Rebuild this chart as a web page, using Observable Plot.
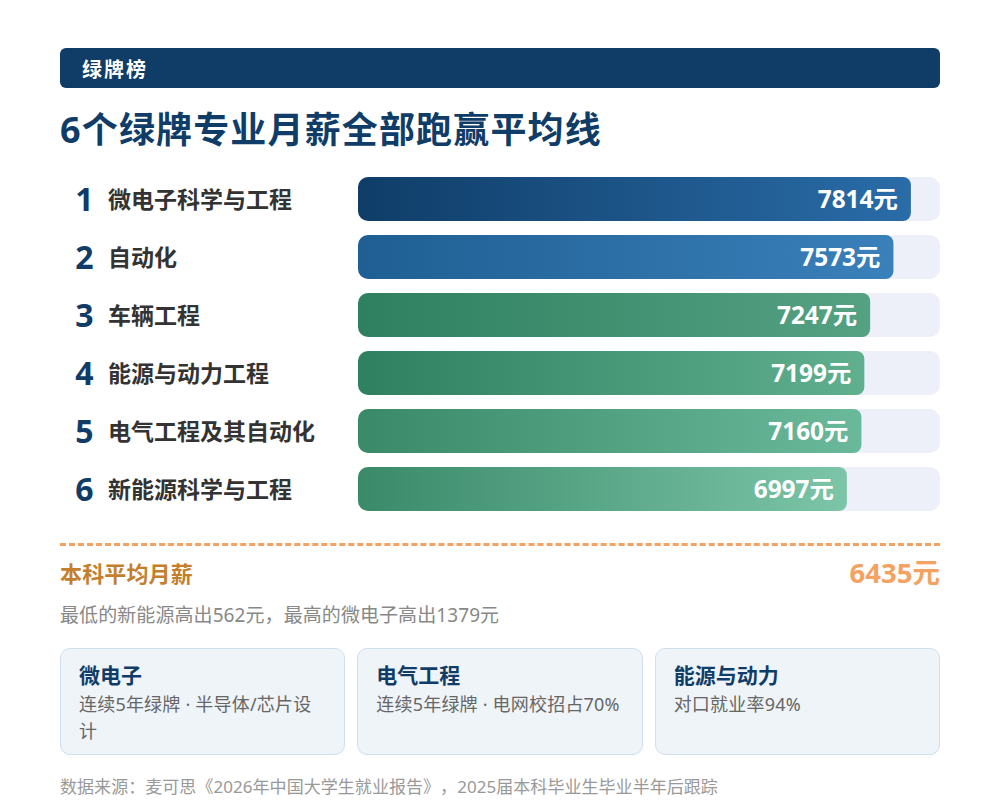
<!DOCTYPE html>
<html lang="zh">
<head>
<meta charset="utf-8">
<script src="https://cdn.jsdelivr.net/npm/d3@7"></script>
<script src="https://cdn.jsdelivr.net/npm/@observablehq/plot@0.6"></script>
<style>
html,body{margin:0;padding:0;background:#fff;}
body{width:1000px;height:802px;position:relative;overflow:hidden;font-family:"Noto Sans","Noto Sans CJK SC",sans-serif;text-spacing-trim:space-all;}
.abs{position:absolute;white-space:nowrap;}
#band{left:60px;top:48px;width:880px;height:40px;background:#0f3d68;border-radius:6px;color:#fff;font-size:20px;font-weight:700;line-height:43px;text-indent:22px;letter-spacing:2px;}
#title{left:60px;top:105px;font-size:36px;font-weight:700;color:#0f3d68;letter-spacing:1.15px;line-height:50px;}
#chart{left:0;top:177px;}
#chart svg{display:block;}
#rule{left:60px;top:543px;width:880px;border-top:3px dashed #f4a261;}
#avgL{left:60px;top:557px;font-size:22px;font-weight:700;color:#c47f2c;line-height:32px;letter-spacing:.15px;}
#avgV{right:60px;top:553px;font-size:27.5px;font-weight:700;color:#f4a261;line-height:40px;}
#note{left:60px;top:601px;font-size:19px;color:#888;line-height:28px;letter-spacing:.08px;}
.card{position:absolute;top:648px;height:105px;width:283.33px;background:#eff4f9;border:1px solid #cfdfee;border-radius:10px;}
.card b{position:absolute;left:18px;top:11px;font-size:21px;line-height:30px;color:#0f3d68;white-space:nowrap;}
.card span{position:absolute;left:18px;right:18px;top:42px;font-size:18px;line-height:26.5px;color:#666;letter-spacing:.2px;}
#src{left:60px;top:773px;font-size:17px;color:#999;line-height:28px;letter-spacing:.05px;}
</style>
</head>
<body>
<div id="band" class="abs"></div>
<div id="title" class="abs"></div>
<div id="chart" class="abs"></div>
<div id="rule" class="abs"></div>
<div id="avgL" class="abs"></div>
<div id="avgV" class="abs"></div>
<div id="note" class="abs"></div>
<div id="cards"></div>
<div id="src" class="abs"></div>
<script>
// ---- data ----
const majors = ["微电子科学与工程","自动化","车辆工程","能源与动力工程","电气工程及其自动化","新能源科学与工程"];
const ranks = [1,2,3,4,5,6];
const salaries = [7814,7573,7247,7199,7160,6997];
// bar length as share of the track, as measured in the reference (not linear in salary)
const barShare = [95,92,88,87,86.5,84];
const gradientFrom = ["#0f3d68","#1f5f93","#2e8060","#2e8060","#3a8a6a","#3a8a6a"];
const gradientTo = ["#2a6ca8","#3a80ba","#55a283","#60b08f","#6ab99a","#7cc5a8"];
const average = 6435;
const cardTitles = ["微电子","电气工程","能源与动力"];
const cardTexts = ["连续5年绿牌 · 半导体/芯片设计","连续5年绿牌 · 电网校招占70%","对口就业率94%"];

const rows = majors.map((name,i)=>({name,rank:ranks[i],salary:salaries[i],share:barShare[i],grad:`url(#bar${i})`}));

document.getElementById("band").textContent = "绿牌榜";
document.getElementById("title").textContent = "6个绿牌专业月薪全部跑赢平均线";
document.getElementById("avgL").textContent = "本科平均月薪";
document.getElementById("avgV").textContent = average + "元";
document.getElementById("note").textContent = `最低的新能源高出${salaries[5]-average}元，最高的微电子高出${salaries[0]-average}元`;
document.getElementById("src").textContent = "数据来源：麦可思《2026年中国大学生就业报告》，2025届本科毕业生毕业半年后跟踪";
const cardLefts = [60,357.33,654.67];
cardTitles.forEach((t,i)=>{
  const c=document.createElement("div");c.className="card";c.style.left=cardLefts[i]+"px";
  const b=document.createElement("b");b.textContent=t;
  const s=document.createElement("span");s.textContent=cardTexts[i];
  c.append(b,s);document.getElementById("cards").append(c);
});

function defs(){
  const d=d3.create("svg:defs");
  majors.forEach((_,i)=>{
    const g=d.append("linearGradient").attr("id",`bar${i}`).attr("x1","0").attr("x2","1").attr("y1","0").attr("y2","0");
    g.append("stop").attr("offset","0").attr("stop-color",gradientFrom[i]);
    g.append("stop").attr("offset","1").attr("stop-color",gradientTo[i]);
  });
  return d.node();
}

const font='"Noto Sans","Noto Sans CJK SC",sans-serif';
const plot = Plot.plot({
  width:1000,height:334,
  marginTop:0,marginBottom:0,marginLeft:0,marginRight:0,
  style:{background:"transparent",fontFamily:font},
  x:{domain:[0,100],range:[358,940],axis:null},
  y:{domain:majors,range:[0,334],paddingInner:14/58,paddingOuter:0,axis:null},
  color:{type:"identity"},
  marks:[
    defs,
    Plot.barX(rows,{x1:0,x2:100,y:"name",fill:"#edf0f8",rx:10}),
    Plot.barX(rows,{x1:0,x2:"share",y:"name",fill:"grad",rx1:10,rx2:8}),
    Plot.text(rows,{text:"rank",y:"name",frameAnchor:"left",dx:84,dy:1,textAnchor:"middle",fontSize:32,fontWeight:700,fill:"#0f3d68"}),
    Plot.text(rows,{text:"name",y:"name",frameAnchor:"left",dx:107.5,dy:1,textAnchor:"start",fontSize:23,fontWeight:700,fill:"#333"}),
    Plot.text(rows,{text:d=>d.salary+"元",x:"share",y:"name",textAnchor:"end",dx:-13.5,dy:1,fontSize:24.4,fontWeight:700,fill:"#fff"})
  ]
});
document.getElementById("chart").append(plot);
</script>
</body>
</html>
